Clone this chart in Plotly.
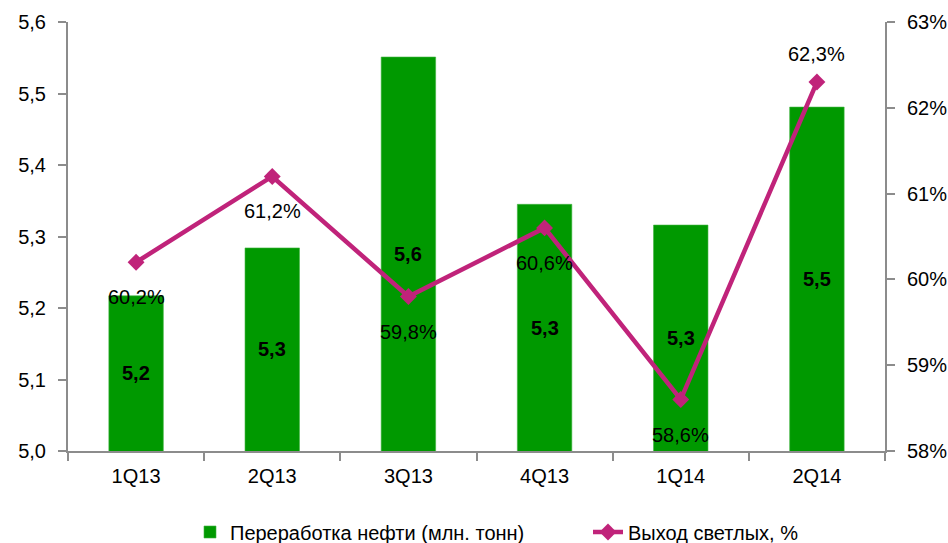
import plotly.graph_objects as go

categories = ["1Q13", "2Q13", "3Q13", "4Q13", "1Q14", "2Q14"]
refining = [5.217, 5.284, 5.551, 5.345, 5.316, 5.481]
light_yield = [60.2, 61.2, 59.8, 60.6, 58.6, 62.3]
label_below = [True, True, True, True, True, False]

bar_name = "Переработка нефти (млн. тонн)"
line_name = "Выход светлых, %"

FONT = "Liberation Sans Narrow, Arial Narrow, Liberation Sans, Arial, sans-serif"
GREEN = "#009900"
MAGENTA = "#C0237A"
AXIS = "#8C8C8C"
Y_MIN, Y_MAX = 5.0, 5.6

fig = go.Figure()
fig.add_trace(go.Bar(
    x=categories, y=refining, name=bar_name,
    marker=dict(color=GREEN, line=dict(color="#3FB33F", width=0.6)),
    yaxis="y",
))
fig.add_trace(go.Scatter(
    x=categories, y=light_yield, name=line_name, mode="lines+markers",
    line=dict(color=MAGENTA, width=4.5),
    marker=dict(symbol="diamond", size=13, color=MAGENTA),
    yaxis="y2",
))

annotations = []
for c, v in zip(categories, refining):
    annotations.append(dict(
        x=c, y=(Y_MIN + v) / 2, xref="x", yref="y",
        text="<b>" + f"{v:.1f}".replace(".", ",") + "</b>",
        showarrow=False,
        font=dict(size=20, color="black", family=FONT),
    ))
for c, v, below in zip(categories, light_yield, label_below):
    annotations.append(dict(
        x=c, y=v, xref="x", yref="y2",
        text=f"{v:.1f}".replace(".", ",") + "%",
        showarrow=False, yshift=-35 if below else 28,
        font=dict(size=20, color="black", family=FONT),
    ))

fig.update_layout(
    width=948, height=543,
    margin=dict(l=68, r=63, t=22, b=92, autoexpand=False),
    paper_bgcolor="white", plot_bgcolor="white",
    separators=",.",
    font=dict(family=FONT, size=20, color="black"),
    bargap=0.6,
    showlegend=True,
    legend=dict(orientation="h", x=190 / 948, xanchor="left", xref="container",
                y=1 - 532 / 543, yanchor="middle", yref="container",
                font=dict(size=20), tracegroupgap=0, entrywidth=353),
    annotations=annotations,
    xaxis=dict(
        type="category", showline=True, linecolor=AXIS, linewidth=2,
        ticks="outside", tickson="boundaries", ticklen=8, tickcolor=AXIS, tickwidth=2,
        showgrid=False, tickfont=dict(size=20), zeroline=False, ticklabelstandoff=6,
        automargin=False,
    ),
    yaxis=dict(
        range=[Y_MIN, Y_MAX], dtick=0.1, tickformat=".1f",
        showline=True, linecolor=AXIS, linewidth=2,
        ticks="outside", ticklen=8, tickcolor=AXIS, tickwidth=2,
        showgrid=False, zeroline=False, tickfont=dict(size=20), ticklabelstandoff=8,
        automargin=False,
    ),
    yaxis2=dict(
        range=[58, 63], dtick=1, ticksuffix="%", overlaying="y", side="right",
        showline=True, linecolor=AXIS, linewidth=2,
        ticks="outside", ticklen=8, tickcolor=AXIS, tickwidth=2,
        showgrid=False, zeroline=False, tickfont=dict(size=20), ticklabelstandoff=8,
        automargin=False,
    ),
)

fig.write_html("out.html", config={"displayModeBar": False},
               post_script="document.body.style.margin='0';")
